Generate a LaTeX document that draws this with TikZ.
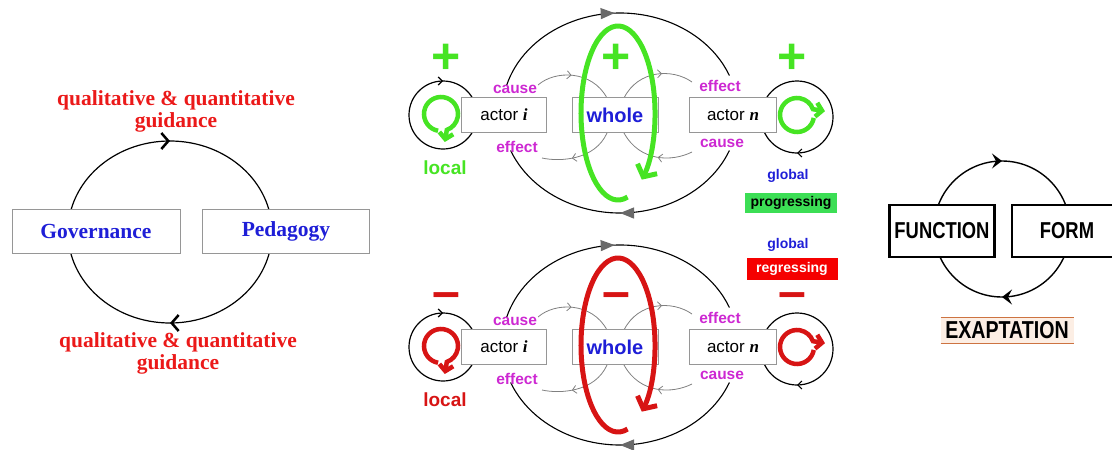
\documentclass[tikz,border=0pt]{standalone}
\usepackage{fontspec}
\setmainfont{Liberation Serif}
\setsansfont{Liberation Sans}
\newfontfamily\narrowfont[FakeStretch=0.8]{Liberation Sans}
\usetikzlibrary{arrows.meta,decorations.markings}

\definecolor{guidred}{RGB}{235,25,25}
\definecolor{roleblue}{RGB}{30,30,215}
\definecolor{tagpink}{RGB}{205,40,210}
\definecolor{boxgray}{RGB}{150,150,150}
\definecolor{arrgray}{RGB}{105,105,105}
\definecolor{loopgreen}{RGB}{70,228,35}
\definecolor{loopred}{RGB}{215,20,20}
\definecolor{progreen}{RGB}{60,222,85}
\definecolor{regred}{RGB}{245,0,0}
\definecolor{exafill}{RGB}{252,238,228}
\definecolor{exaline}{RGB}{205,115,65}

\begin{document}
\begin{tikzpicture}[x=1pt, y=-1pt,
  every node/.style = {inner sep=0pt, outer sep=0pt},
  box/.style = {draw=boxgray, fill=white, line width=0.8pt},
  guide/.style = {text=guidred, align=center, font=\rmfamily\bfseries\fontsize{21.5}{22}\selectfont},
  role/.style = {text=roleblue, font=\rmfamily\bfseries\fontsize{21.5}{22}\selectfont},
  tag/.style = {text=tagpink, font=\sffamily\bfseries\fontsize{15.5}{16}\selectfont},
  small/.style = {font=\sffamily\bfseries\fontsize{14}{14}\selectfont},
  capsbox/.style = {draw, line width=2.8pt, fill=white, font=\narrowfont\bfseries\fontsize{23}{23}\selectfont},
  sign/.style = {font=\sffamily\bfseries\fontsize{50}{50}\selectfont},
  sign-up/.style = {},
  sign-dn/.style = {anchor=base, text height=1pt, text depth=0pt},
  chev/.tip = {Straight Barb[length=4pt,width=8pt]},
  tipat/.style 2 args = {postaction={decorate, decoration={markings, mark=at position #1 with {\arrow{#2}}}}},
  curl/.pic = {\draw[line width=4.5pt, -{Straight Barb[length=6pt,width=14pt]}]
    (100:17) arc[start angle=100, end angle=430, radius=17] -- ++(-2,12);}]
  \useasboundingbox (0,0) rectangle (1112,450);

  % governance / pedagogy
  \draw[line width=1.2pt, tipat={0.25}{Straight Barb[length=7pt,width=16pt,line width=2.5pt]},
    tipat={0.75}{Straight Barb[length=7pt,width=16pt,line width=2.5pt]}]
    (170,232) ellipse[x radius=102, y radius=91];
  \node[box, role, minimum width=168pt, minimum height=44pt] (gov) at (96,231) {Governance};
  \node[box, role, minimum width=167pt, minimum height=44pt] (ped) at (286,231) {Pedagogy};
  \node[guide] (guide-t) at (176,111) {qualitative \& quantitative\\guidance};
  \node[guide] (guide-b) at (178,353) {qualitative \& quantitative\\guidance};

  % actors and whole, progressing and regressing
  \foreach \dy/\col/\sgn/\sy/\n in {0/loopgreen/+/59/up, 232/loopred/–/76/dn} {
  \begin{scope}[shift={(0,\dy)}]
    \draw[line width=1.1pt, tipat={0.5}{Triangle[length=14pt,width=11pt,color=arrgray]}]
      (620,113) ++(196:118 and 100) arc[start angle=196, end angle=338, x radius=118, y radius=100];
    \draw[line width=1.1pt, tipat={0.5}{Triangle[length=14pt,width=11pt,color=arrgray]}]
      (620,113) ++(22:118 and 100) arc[start angle=22, end angle=158, x radius=118, y radius=100];
    \draw[line width=1.2pt, tipat={0.75}{chev}] (443,115) circle[radius=34];
    \draw[line width=1.2pt, tipat={0.25}{chev}] (797,117) circle[radius=36];
    \draw[gray, line width=0.8pt, tipat={0.45}{chev}] (538,85) .. controls (555,70) and (592,70) .. (607,98);
    \draw[gray, line width=0.8pt, tipat={0.6}{chev}] (624,98) .. controls (638,70) and (672,68) .. (692,82);
    \draw[gray, line width=0.8pt, tipat={0.6}{chev}] (607,133) .. controls (595,160) and (560,162) .. (542,158);
    \draw[gray, line width=0.8pt, tipat={0.45}{chev}] (692,152) .. controls (672,162) and (640,162) .. (624,133);
    \node[box, minimum width=85pt, minimum height=35pt, font=\sffamily\fontsize{17}{17}\selectfont]
      (acti-\n) at (504,115) {actor {\rmfamily\bfseries\itshape i}};
    \node[box, minimum width=86pt, minimum height=35pt, text=roleblue, font=\sffamily\bfseries\fontsize{20}{20}\selectfont]
      (whole-\n) at (615,115) {whole};
    \node[box, minimum width=87pt, minimum height=35pt, font=\sffamily\fontsize{17}{17}\selectfont]
      (actn-\n) at (733,115) {actor {\rmfamily\bfseries\itshape n}};
    \node[tag] (cause-i-\n) at (515,89) {cause};
    \node[tag] (effect-i-\n) at (517,147) {effect};
    \node[tag] (effect-n-\n) at (720,86) {effect};
    \node[tag] (cause-n-\n) at (722,143) {cause};
    \draw[\col, line width=5pt, -{Straight Barb[length=9pt,width=22pt]}]
      (618,113) ++(75:37 and 87) arc[start angle=75, end angle=410, x radius=37, y radius=87];
    \pic[color=\col] at (441,114) {curl};
    \pic[color=\col, rotate=90] at (797,115) {curl};
    \node[sign, sign-\n, text=\col] (sgn-i-\n) at (446,\sy) {\sgn};
    \node[sign, sign-\n, text=\col] (sgn-w-\n) at (616,\sy) {\sgn};
    \node[sign, sign-\n, text=\col] (sgn-n-\n) at (792,\sy) {\sgn};
    \node[text=\col, font=\sffamily\bfseries\fontsize{19}{19}\selectfont] (local-\n) at (445,168) {local};
  \end{scope}}
  \node[small, text=roleblue] (glob-p) at (788,176) {global};
  \node[small, fill=progreen, minimum width=92pt, minimum height=20pt] (prog) at (791,203) {progressing};
  \node[small, text=roleblue] (glob-r) at (788,245) {global};
  \node[small, fill=regred, text=white, minimum width=91pt, minimum height=22pt] (regr) at (792,269) {regressing};

  % function / form
  \draw[line width=1.4pt, tipat={0.25}{Stealth[length=10pt,width=15pt,inset=4pt]},
    tipat={0.75}{Stealth[length=10pt,width=15pt,inset=4pt]}] (1002,229) circle[radius=68];
  \node[capsbox, minimum width=105pt, minimum height=52pt] (func) at (942,231) {FUNCTION};
  \node[capsbox, minimum width=110pt, minimum height=52pt, anchor=west] (form) at (1012,231) {FORM};
  \node[fill=exafill, minimum width=133pt, minimum height=26pt, font=\narrowfont\bfseries\fontsize{24.5}{24.5}\selectfont]
    (exa) at (1007,330) {EXAPTATION};
  \draw[exaline, line width=1pt] (exa.north west) -- (exa.north east) (exa.south west) -- (exa.south east);
\end{tikzpicture}
\end{document}
